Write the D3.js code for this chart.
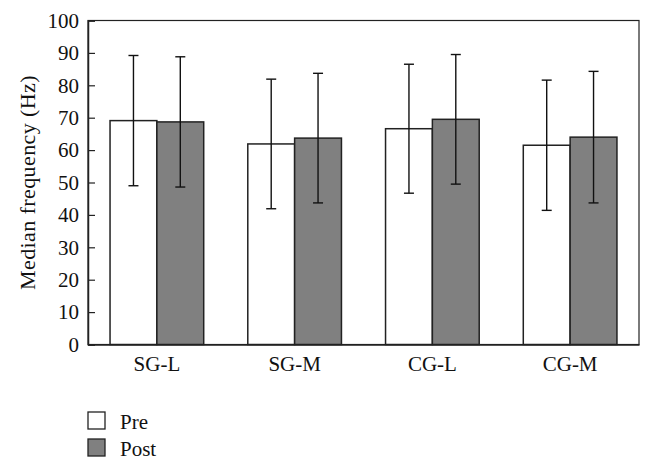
<!DOCTYPE html>
<html>
<head>
<meta charset="utf-8">
<script src="https://cdn.jsdelivr.net/npm/d3@7"></script>
<style>
  body { margin: 0; background: #fff; }
  text { font-family: "Liberation Serif", "DejaVu Serif", serif; fill: #111; }
</style>
</head>
<body>
<div id="chart"></div>
<script>
const groups = ['SG-L', 'SG-M', 'CG-L', 'CG-M'];
const series = ['Pre', 'Post'];
const preMean = [69.1, 61.9, 66.6, 61.5];
const preSd = [20.1, 20.0, 19.9, 20.1];
const postMean = [68.7, 63.7, 69.5, 64.0];
const postSd = [20.1, 20.0, 20.0, 20.3];
const yTicks = [0, 10, 20, 30, 40, 50, 60, 70, 80, 90, 100];

const width = 654;
const height = 471;
const margin = { top: 20.5, right: 15, bottom: 126.5, left: 88 };
const innerW = width - margin.left - margin.right;
const innerH = height - margin.top - margin.bottom;
const fontSize = '21px';

const svg = d3.select('#chart')
  .append('svg')
  .attr('width', width)
  .attr('height', height);

const g = svg.append('g')
  .attr('transform', `translate(${margin.left},${margin.top})`);

const x = d3.scaleBand()
  .domain(groups)
  .range([0, innerW])
  .paddingInner(0)
  .paddingOuter(0);

const x1 = d3.scaleBand()
  .domain(series)
  .range([x.bandwidth() * 0.16, x.bandwidth() * 0.84]);

const y = d3.scaleLinear()
  .domain([0, 100])
  .range([innerH, 0]);

const color = d3.scaleOrdinal()
  .domain(series)
  .range(['#ffffff', '#808080']);

const rows = [];
groups.forEach((grp, i) => {
  rows.push({ group: grp, key: 'Pre', mean: preMean[i], sd: preSd[i] });
  rows.push({ group: grp, key: 'Post', mean: postMean[i], sd: postSd[i] });
});

// frame
g.append('rect')
  .attr('width', innerW)
  .attr('height', innerH)
  .attr('fill', 'none')
  .attr('stroke', '#222')
  .attr('stroke-width', 1.2);

// bars
g.selectAll('.bar')
  .data(rows)
  .enter()
  .append('rect')
  .attr('class', 'bar')
  .attr('x', d => x(d.group) + x1(d.key))
  .attr('y', d => y(d.mean))
  .attr('width', x1.bandwidth())
  .attr('height', d => y(0) - y(d.mean))
  .attr('fill', d => color(d.key))
  .attr('stroke', '#222')
  .attr('stroke-width', 1.5);

// error bars
const capW = 10;
const cx = d => x(d.group) + x1(d.key) + x1.bandwidth() / 2;
const err = g.selectAll('.err')
  .data(rows)
  .enter()
  .append('g')
  .attr('class', 'err')
  .attr('stroke', '#111')
  .attr('stroke-width', 1.4);

err.append('line')
  .attr('x1', cx)
  .attr('x2', cx)
  .attr('y1', d => y(d.mean - d.sd))
  .attr('y2', d => y(d.mean + d.sd));

err.append('line')
  .attr('x1', d => cx(d) - capW / 2)
  .attr('x2', d => cx(d) + capW / 2)
  .attr('y1', d => y(d.mean + d.sd))
  .attr('y2', d => y(d.mean + d.sd));

err.append('line')
  .attr('x1', d => cx(d) - capW / 2)
  .attr('x2', d => cx(d) + capW / 2)
  .attr('y1', d => y(d.mean - d.sd))
  .attr('y2', d => y(d.mean - d.sd));

// y axis (ticks point inward)
const yAxis = g.append('g')
  .call(d3.axisLeft(y).tickValues(yTicks).tickSize(-7).tickPadding(9));
yAxis.select('.domain').attr('stroke', '#222').attr('stroke-width', 1.5);
yAxis.selectAll('.tick line').attr('stroke', '#222').attr('stroke-width', 1.2);
yAxis.selectAll('.tick text')
  .style('font-family', '"Liberation Serif", serif')
  .style('font-size', fontSize)
  .attr('fill', '#111');

// x axis
const xAxis = g.append('g')
  .attr('transform', `translate(0,${innerH})`)
  .call(d3.axisBottom(x).tickSize(0).tickPadding(12));
xAxis.select('.domain').attr('stroke', '#222').attr('stroke-width', 1.5);
xAxis.selectAll('.tick text')
  .style('font-family', '"Liberation Serif", serif')
  .style('font-size', fontSize)
  .attr('fill', '#111');

// y label
svg.append('text')
  .attr('transform', `translate(35,${margin.top + innerH / 2}) rotate(-90)`)
  .attr('text-anchor', 'middle')
  .style('font-size', '22px')
  .style('letter-spacing', '0.4px')
  .text('Median frequency (Hz)');

// legend
const legend = svg.append('g')
  .attr('transform', 'translate(88,412)');

series.forEach((s, i) => {
  const row = legend.append('g')
    .attr('transform', `translate(0,${i * 27})`);
  row.append('rect')
    .attr('width', 17)
    .attr('height', 17)
    .attr('fill', color(s))
    .attr('stroke', '#222')
    .attr('stroke-width', 1.3);
  row.append('text')
    .attr('x', 32)
    .attr('y', 17)
    .style('font-size', fontSize)
    .text(s);
});
</script>
</body>
</html>
